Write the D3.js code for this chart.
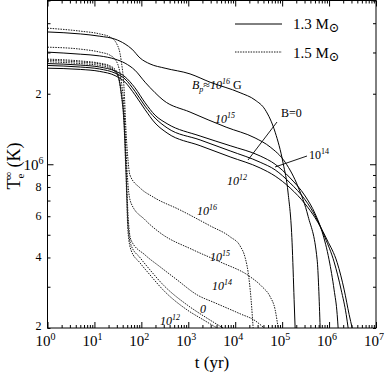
<!DOCTYPE html>
<html>
<head>
<meta charset="utf-8">
<script src="https://cdn.jsdelivr.net/npm/d3@7"></script>
<style>
  body { margin: 0; background: #fff; }
  svg { font-family: "Liberation Serif", "DejaVu Serif", serif; }
  .curve { fill: none; stroke: #000; stroke-width: 1; }
  .dash { stroke-width: 0.9; stroke-dasharray: 1.5,1.1; }
  .axis path, .axis line { stroke: #000; stroke-width: 1; }
</style>
</head>
<body>
<div id="chart"></div>
<script>
// cooling curves, points are [t (yr), Te (10^6 K)]
// 1.3 solar masses (solid)
var m13_B16 = [[1,3.67],[5,3.60],[13,3.52],[27.5,3.42],[45,3.26],[63,3.10],[94,2.84],[153,2.68],[320,2.57],
  [1090,2.43],[2915,2.24],[12700,2.02],[26500,1.88],[43400,1.71],[71000,1.37],[105000,1.01],[134000,0.754],
  [163000,0.462],[180000,0.264],[189000,0.20]];
var m13_B15 = [[1,3.01],[5,2.95],[13,2.90],[27.5,2.81],[45,2.70],[73,2.52],[120,2.24],[196,2.02],[290,1.88],
  [1090,1.67],[6400,1.44],[26500,1.295],[55500,1.185],[116000,1.02],[219000,0.80],[358000,0.599],
  [557000,0.391],[646000,0.20]];
var m13_B14 = [[1,2.69],[5,2.65],[13,2.60],[27.5,2.50],[45,2.36],[73,2.12],[120,1.83],[196,1.62],[353,1.49],
  [1785,1.32],[7790,1.20],[34000,1.085],[71000,1.00],[148000,0.874],[309000,0.732],[506000,0.614],
  [713000,0.514],[1000000,0.391],[1280000,0.291],[1490000,0.228],[1560000,0.20]];
var m13_B0 = [[1,2.64],[5,2.60],[13,2.55],[27.5,2.45],[45,2.31],[73,2.05],[120,1.77],[196,1.575],[353,1.43],
  [1785,1.27],[7790,1.14],[34000,1.02],[71000,0.946],[148000,0.832],[309000,0.705],[506000,0.602],
  [826000,0.485],[1280000,0.383],[1810000,0.291],[2320000,0.228],[2550000,0.20]];
var m13_B12 = [[1,2.57],[5,2.54],[13,2.49],[27.5,2.39],[45,2.24],[73,1.98],[120,1.71],[196,1.50],[353,1.36],
  [1785,1.20],[7790,1.075],[34000,0.964],[71000,0.89],[148000,0.792],[309000,0.677],[506000,0.59],
  [910000,0.475],[1490000,0.38],[2100000,0.291],[2680000,0.228],[3110000,0.20]];

// 1.5 solar masses (dotted)
var m15_B16 = [[1,3.81],[5,3.70],[13,3.60],[21.5,3.49],[30,3.26],[37,2.79],[43,2.07],[47,1.40],[52,1.04],
  [57,0.90],[94,0.792],[178,0.725],[668,0.638],[2915,0.546],[7790,0.49],[12700,0.448],[16300,0.399],
  [18800,0.347],[21800,0.264],[24100,0.20]];
var m15_B15 = [[1,3.16],[5,3.10],[13,3.01],[21.5,2.92],[30,2.73],[37,2.29],[43,1.70],[47,1.15],[52,0.816],
  [60,0.684],[120,0.579],[250,0.51],[1265,0.431],[4760,0.383],[20800,0.331],[37500,0.30],[55500,0.272],
  [71000,0.239],[82200,0.20]];
var m15_B14 = [[1,2.81],[5,2.76],[13,2.70],[21.5,2.63],[30,2.48],[37,2.07],[43,1.545],[47,1.04],[52,0.608],
  [60,0.475],[120,0.41],[250,0.365],[577,0.321],[1540,0.277],[3725,0.256],[12700,0.23],[26500,0.215],
  [41300,0.20]];
var m15_B0 = [[1,2.78],[5,2.73],[13,2.68],[21.5,2.60],[30,2.45],[37,2.03],[43,1.47],[47,0.946],[52,0.551],
  [60,0.453],[94,0.399],[153,0.354],[290,0.306],[943,0.251],[2280,0.223],[5520,0.20]];
var m15_B12 = [[1,2.74],[5,2.69],[13,2.64],[21.5,2.57],[30,2.43],[37,2.00],[43,1.43],[47,0.90],[52,0.514],
  [60,0.431],[94,0.379],[153,0.337],[290,0.291],[943,0.239],[2070,0.217],[4110,0.20]];

var solidSeries = [m13_B16, m13_B15, m13_B14, m13_B0, m13_B12];
var dottedSeries = [m15_B16, m15_B15, m15_B14, m15_B0, m15_B12];

// axis ticks
var xDecades = [0,1,2,3,4,5,6,7];
var yMajor = [1e6];
var yLabels = [[2e5,"2"],[4e5,"4"],[6e5,"6"],[8e5,"8"],[2e6,"2"]];

var width = 385, height = 376;
var mLeft = 47.5, mRight = 376, mTop = 0.5, mBottom = 328;

var svg = d3.select("#chart").append("svg")
    .attr("width", width)
    .attr("height", height);

var x = d3.scaleLog().domain([1, 1e7]).range([mLeft, mRight]);
var y = d3.scaleLog().domain([2e5, 5e6]).range([mBottom, mTop]);

// minor ticks
var xMinor = [];
xDecades.slice(0, -1).forEach(function(d) {
  for (var k = 2; k <= 9; k++) xMinor.push(k * Math.pow(10, d));
});
var xMajor = xDecades.map(function(d) { return Math.pow(10, d); });
var yMinor = [];
[1e5, 1e6].forEach(function(d) {
  for (var k = 1; k <= 9; k++) {
    var v = k * d;
    if (v >= 2e5 && v <= 5e6 && v != 1e6) yMinor.push(v);
  }
});

function addAxis(gen, tr, vals, size) {
  svg.append("g").attr("class", "axis")
    .attr("transform", tr)
    .call(gen.tickValues(vals).tickSize(size).tickFormat(""))
    .select(".domain").remove();
}
addAxis(d3.axisBottom(x), "translate(0," + mBottom + ")", xMajor, -6);
addAxis(d3.axisBottom(x), "translate(0," + mBottom + ")", xMinor, -3);
addAxis(d3.axisTop(x), "translate(0," + mTop + ")", xMajor, -6);
addAxis(d3.axisTop(x), "translate(0," + mTop + ")", xMinor, -3);
addAxis(d3.axisLeft(y), "translate(" + mLeft + ",0)", yMajor, -6);
addAxis(d3.axisLeft(y), "translate(" + mLeft + ",0)", yMinor, -3);
addAxis(d3.axisRight(y), "translate(" + mRight + ",0)", yMajor, -6);
addAxis(d3.axisRight(y), "translate(" + mRight + ",0)", yMinor, -3);

// frame
svg.append("rect")
  .attr("x", mLeft).attr("y", mTop)
  .attr("width", mRight - mLeft).attr("height", mBottom - mTop)
  .attr("fill", "none").attr("stroke", "#000").attr("stroke-width", 1);

// x labels 10^k
var xl = svg.append("g").selectAll("text")
  .data(xDecades).enter().append("text")
    .attr("x", function(d) { return x(Math.pow(10, d)) - 2; })
    .attr("y", 346)
    .attr("text-anchor", "middle")
    .attr("font-size", 15);
xl.append("tspan").text("10");
xl.append("tspan").attr("dy", -6).attr("font-size", 10).text(function(d) { return d; });

// y labels
svg.append("g").selectAll("text")
  .data(yLabels).enter().append("text")
    .attr("x", mLeft - 6)
    .attr("y", function(d) { return y(d[0]) + (d[0] == 2e5 ? 2 : 4); })
    .attr("text-anchor", "end")
    .attr("font-size", 12)
    .text(function(d) { return d[1]; });
var y6 = svg.append("text")
  .attr("x", mLeft - 14).attr("y", y(1e6) + 6)
  .attr("text-anchor", "middle")
  .attr("font-size", 15);
y6.append("tspan").text("10");
y6.append("tspan").attr("dy", -6).attr("font-size", 10).text("6");

// axis titles
svg.append("text")
  .attr("x", 212).attr("y", 368)
  .attr("text-anchor", "middle")
  .attr("font-size", 17)
  .text("t (yr)");

var yt = svg.append("text")
  .attr("transform", "translate(20,166) rotate(-90)")
  .attr("text-anchor", "middle")
  .attr("font-size", 18);
yt.append("tspan").text("T");
yt.append("tspan").attr("dy", 4).attr("font-size", 11).text("e");
yt.append("tspan").attr("dx", -6).attr("dy", -12).attr("font-size", 11).text("∞");
yt.append("tspan").attr("dy", 8).text(" (K)");

// curves
var line = d3.line()
  .x(function(d) { return x(d[0]); })
  .y(function(d) { return y(d[1] * 1e6); })
  .curve(d3.curveMonotoneX);

svg.append("g").selectAll("path")
  .data(solidSeries).enter().append("path")
    .attr("class", "curve")
    .attr("d", line);

svg.append("g").selectAll("path")
  .data(dottedSeries).enter().append("path")
    .attr("class", "curve dash")
    .attr("d", line);

// legend
svg.append("line").attr("x1", 235).attr("x2", 282).attr("y1", 24).attr("y2", 24)
  .attr("stroke", "#000").attr("stroke-width", 1);
svg.append("line").attr("x1", 235).attr("x2", 282).attr("y1", 52).attr("y2", 52)
  .attr("class", "curve dash");
function legendText(yy, s) {
  var t = svg.append("text").attr("x", 293).attr("y", yy).attr("font-size", 15);
  t.append("tspan").text(s + " M");
  t.append("tspan").attr("dy", 3).attr("font-size", 13).text("⊙");
}
legendText(29, "1.3");
legendText(58, "1.5");

// curve labels
function power(px, py, base, exp, italic, size) {
  var t = svg.append("text").attr("x", px).attr("y", py)
    .attr("font-size", size || 12)
    .attr("font-style", italic ? "italic" : "normal");
  t.append("tspan").text(base);
  if (exp) t.append("tspan").attr("dy", -5).attr("font-size", 8).text(exp);
  return t;
}
var bp = svg.append("text").attr("x", 192).attr("y", 89).attr("font-size", 12);
bp.append("tspan").attr("font-style", "italic").text("B");
bp.append("tspan").attr("font-style", "italic").attr("dy", 3).attr("font-size", 8).text("p");
bp.append("tspan").attr("dy", -3).text("≈");
bp.append("tspan").attr("font-style", "italic").text("10");
bp.append("tspan").attr("font-style", "italic").attr("dy", -5).attr("font-size", 8).text("16");
bp.append("tspan").attr("dy", 5).text(" G");

power(215, 123, "10", "15", true);
power(227, 185, "10", "12", true);
power(281, 117, "B=0", null, false);
power(309, 159, "10", "14", false);

svg.append("line").attr("x1", 277).attr("y1", 122).attr("x2", 248).attr("y2", 160)
  .attr("stroke", "#000").attr("stroke-width", 0.9);
svg.append("line").attr("x1", 307).attr("y1", 156).attr("x2", 275).attr("y2", 167)
  .attr("stroke", "#000").attr("stroke-width", 0.9);

power(197, 215, "10", "16", true);
power(210, 261, "10", "15", true);
power(212, 290, "10", "14", true);
power(200, 313, "0", null, true);
power(160, 325, "10", "12", true);
</script>
</body>
</html>
